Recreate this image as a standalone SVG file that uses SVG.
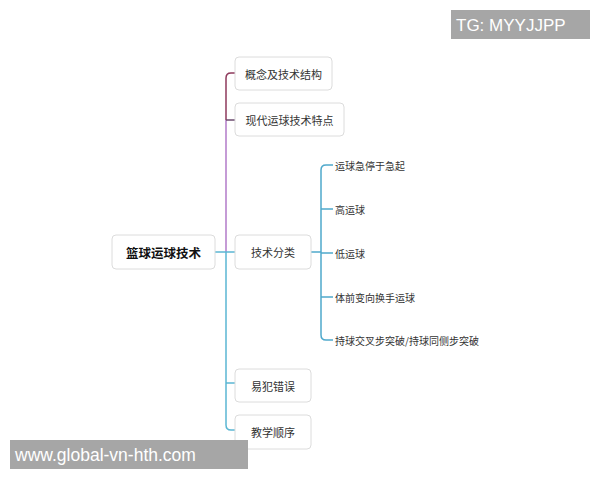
<svg xmlns="http://www.w3.org/2000/svg" width="600" height="480" viewBox="0 0 600 480">
<style>
.box{fill:#fff;stroke:#dcdcdc;stroke-width:1}
.t{font-family:"Noto Sans CJK SC","Liberation Sans",sans-serif;font-size:11px;fill:#333;text-anchor:middle;dominant-baseline:central}
.leaf{font-family:"Noto Sans CJK SC","Liberation Sans",sans-serif;font-size:10px;fill:#333;dominant-baseline:central}
.ln{fill:none;stroke-width:1.5}
.wm{font-family:"Liberation Sans",Arial,sans-serif;fill:#fff}
</style>
<rect width="600" height="480" fill="#fff"/>
<g id="connectors">
  <path class="ln" stroke="#8e3a5c" d="M226,120 V78 Q226,73 231,73 H235"/>
  <path class="ln" stroke="#b27ac8" d="M226,252 V120"/>
  <path class="ln" stroke="#6b4a6e" d="M226,120 H235"/>
  <path class="ln" stroke="#5bb7d3" d="M215,252 H235 M226,252 V425 Q226,430 231,430 H235 M226,383 H235"/>
  <path class="ln" stroke="#4fa9cc" d="M311,252 H321 M333,165 H326 Q321,165 321,170 V335 Q321,340 326,340 H333 M321,209 H333 M321,253 H333 M321,297 H333"/>
</g>
<g id="root">
  <rect class="box" x="112" y="235" width="103" height="34" rx="4"/>
  <text class="t" x="163.5" y="252" style="font-size:12.5px;font-weight:bold;fill:#111">篮球运球技术</text>
</g>
<g id="n1">
  <rect class="box" x="235" y="57" width="97" height="33" rx="4"/>
  <text class="t" x="283.5" y="73.5">概念及技术结构</text>
</g>
<g id="n2">
  <rect class="box" x="235" y="103" width="109" height="33" rx="4"/>
  <text class="t" x="289.5" y="119.5">现代运球技术特点</text>
</g>
<g id="n3">
  <rect class="box" x="235" y="235" width="76" height="34" rx="4"/>
  <text class="t" x="273" y="252">技术分类</text>
</g>
<g id="n4">
  <rect class="box" x="235" y="369" width="76" height="33" rx="4"/>
  <text class="t" x="273" y="385.5">易犯错误</text>
</g>
<g id="n5">
  <rect class="box" x="235" y="415" width="76" height="34" rx="4"/>
  <text class="t" x="273" y="432">教学顺序</text>
</g>
<g id="l1"><text class="leaf" x="335" y="165">运球急停于急起</text></g>
<g id="l2"><text class="leaf" x="335" y="209">高运球</text></g>
<g id="l3"><text class="leaf" x="335" y="253">低运球</text></g>
<g id="l4"><text class="leaf" x="335" y="297">体前变向换手运球</text></g>
<g id="l5"><text class="leaf" x="335" y="340">持球交叉步突破/持球同侧步突破</text></g>
<g id="wm-top">
  <rect x="451" y="10" width="139" height="29" fill="#a6a6a6"/>
  <text class="wm" x="456" y="31" font-size="17">TG: MYYJJPP</text>
</g>
<g id="wm-bottom">
  <rect x="10" y="440" width="238" height="29" fill="#a6a6a6"/>
  <text class="wm" x="15" y="461" font-size="17.5">www.global-vn-hth.com</text>
</g>
</svg>
